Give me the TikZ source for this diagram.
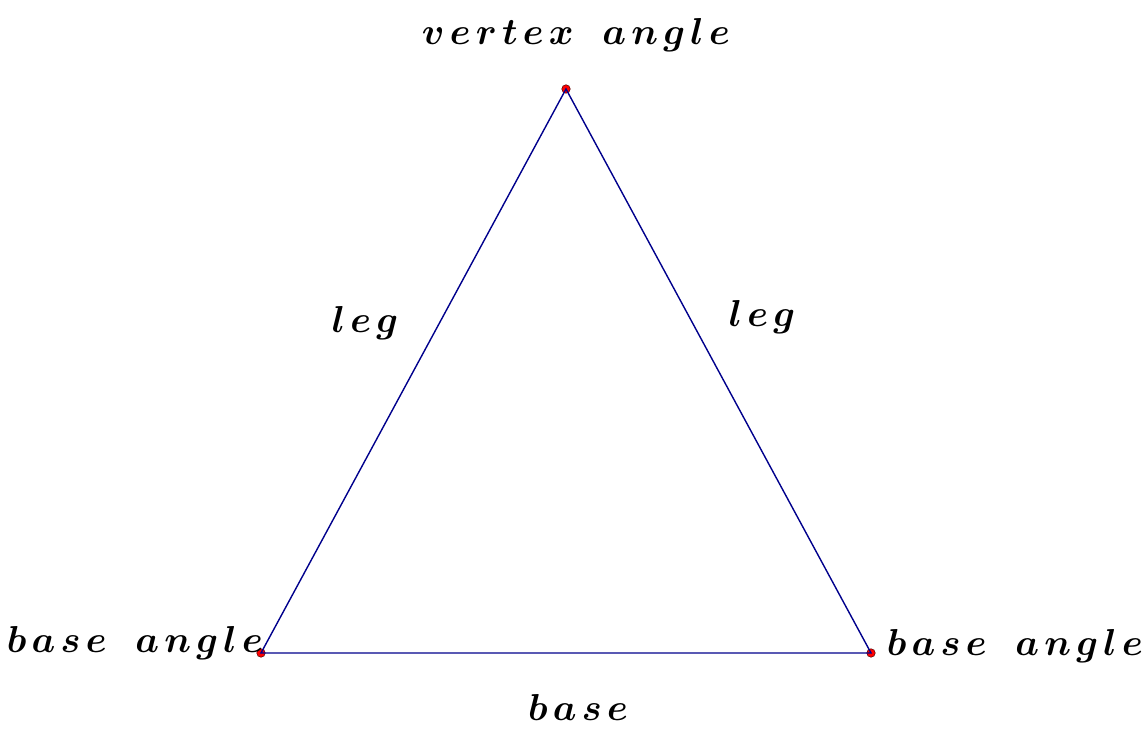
\RequirePackage{fix-cm}
\documentclass[tikz,border=0pt]{standalone}
\usepackage{amsmath}
\newcommand\lsp{\mskip2.2mu}
\newcommand\wsp{\mskip12mu}
\begin{document}
\begin{tikzpicture}[x=1pt,y=1pt,
  side/.style={draw={rgb,255:red,0;green,0;blue,140},line width=1.4pt},
  pt/.style={circle,fill=red,draw=black!70!red,line width=0.5pt,inner sep=0pt,minimum size=8.5pt},
  lbl/.style={inner sep=0pt,anchor=base,font=\fontsize{37.5}{44}\selectfont\boldmath}]
\useasboundingbox (0,0) rectangle (1145,731);
\node[pt] (A) at (566,642) {};
\node[pt] (B) at (261,78) {};
\node[pt] (C) at (871,78) {};
\draw[side] (A.center) -- (B.center) -- (C.center) -- cycle;
\node[lbl] (lv) at (576,686) {$v\lsp e\lsp r\lsp t\lsp e\lsp x\wsp a\lsp n\lsp g\lsp l\lsp e$};
\node[lbl] (ll) at (365,398) {$l\lsp e\lsp g$};
\node[lbl] (lr) at (762,404) {$l\lsp e\lsp g$};
\node[lbl] (lb1) at (135,79) {$b\lsp a\lsp s\lsp e\wsp a\lsp n\lsp g\lsp l\lsp e$};
\node[lbl] (lb2) at (1015,76) {$b\lsp a\lsp s\lsp e\wsp a\lsp n\lsp g\lsp l\lsp e$};
\node[lbl] (lb) at (578,11) {$b\lsp a\lsp s\lsp e$};
\end{tikzpicture}
\end{document}
